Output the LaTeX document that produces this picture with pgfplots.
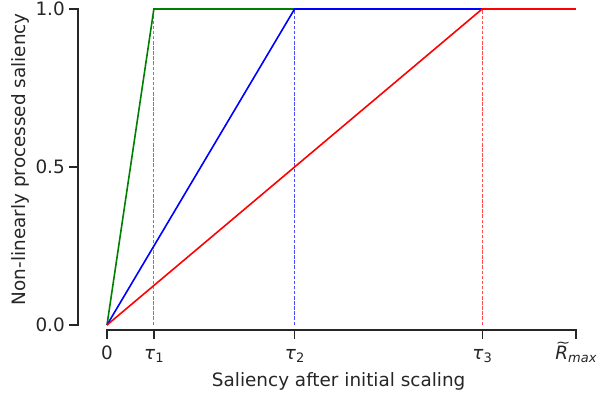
\documentclass[border=0pt]{standalone}
\usepackage{pgfplots}
\pgfplotsset{compat=1.18}
\usepackage{fontspec}
\setmainfont{DejaVu Sans}
\definecolor{fg}{HTML}{262626}
\definecolor{mgreen}{RGB}{0,128,0}
\newcommand{\sub}[1]{\raisebox{-0.2em}{\fontsize{13}{15}\selectfont #1}}
\newcommand{\tauL}[1]{\textit{τ}\sub{#1}}
\newcommand{\Rt}{\makebox[0pt][l]{\hspace{0.02em}\raisebox{0.62em}{\scalebox{0.95}[0.75]{\textasciitilde}}}\textit{R}}
\newcommand{\fnt}{\fontsize{18.4}{22}\selectfont}
\begin{document}
\fnt
\begin{tikzpicture}
\begin{axis}[
  scale only axis, width=469pt, height=316pt,
  xmin=0, xmax=1, ymin=0, ymax=1,
  axis line style={draw=none},
  tick style={draw=none},
  xtick={0,0.1,0.4,0.8,1},
  xticklabels={0,\tauL{1},\tauL{2},\tauL{3},{\Rt\sub{\itshape max}}},
  ytick={0,0.5,1},
  yticklabels={0.0,0.5,1.0},
  xticklabel style={anchor=base, inner sep=0pt, yshift=-34pt, text=fg, font=\fnt},
  yticklabel style={anchor=east, inner sep=0pt, xshift=-42pt, text=fg, font=\fnt},
  xlabel={Saliency after initial scaling},
  ylabel={Non-linearly processed saliency},
  xlabel style={at={(rel axis cs:0.494,-0.196)}, anchor=base, text=fg, font=\fnt},
  ylabel style={at={(rel axis cs:-0.1855,0.525)}, anchor=center, text=fg, font=\fnt},
  clip=false,
]
% spines (offset, trimmed) and ticks
\draw[fg, line width=1.25pt, line cap=rect] (rel axis cs:0,-0.01582) -- (rel axis cs:1,-0.01582);
\draw[fg, line width=1.25pt, line cap=rect] (rel axis cs:-0.06183,0) -- (rel axis cs:-0.06183,1);
\draw[fg, line width=1.25pt] (rel axis cs:0,-0.01582) -- (rel axis cs:0,-0.0427);
\draw[fg, line width=1.25pt] (rel axis cs:0.1,-0.01582) -- (rel axis cs:0.1,-0.0427);
\draw[fg, line width=1.25pt] (rel axis cs:0.4,-0.01582) -- (rel axis cs:0.4,-0.0427);
\draw[fg, line width=1.25pt] (rel axis cs:0.8,-0.01582) -- (rel axis cs:0.8,-0.0427);
\draw[fg, line width=1.25pt] (rel axis cs:1,-0.01582) -- (rel axis cs:1,-0.0427);
\draw[fg, line width=1.25pt] (rel axis cs:-0.06183,0) -- (rel axis cs:-0.07995,0);
\draw[fg, line width=1.25pt] (rel axis cs:-0.06183,0.5) -- (rel axis cs:-0.07995,0.5);
\draw[fg, line width=1.25pt] (rel axis cs:-0.06183,1) -- (rel axis cs:-0.07995,1);
\addplot[mgreen, opacity=0.7, line width=1pt, dash pattern=on 3.5pt off 1.6pt] coordinates {(0.1,0) (0.1,1)};
\addplot[blue, opacity=0.7, line width=1pt, dash pattern=on 3.5pt off 1.6pt] coordinates {(0.4,0) (0.4,1)};
\addplot[red, opacity=0.7, line width=1pt, dash pattern=on 3.5pt off 1.6pt] coordinates {(0.8,0) (0.8,1)};
\addplot[mgreen, line width=1.6pt] coordinates {(0,0) (0.1,1) (1,1)};
\addplot[blue, line width=1.6pt] coordinates {(0,0) (0.4,1) (1,1)};
\addplot[red, line width=1.6pt] coordinates {(0,0) (0.8,1) (1,1)};
\coordinate (bbl) at (rel axis cs:-0.2281,-0.2247);
\coordinate (btr) at (rel axis cs:1.0448,1.0285);
\end{axis}
\pgfresetboundingbox
\path[use as bounding box] (bbl) rectangle (btr);
\end{tikzpicture}
\end{document}
